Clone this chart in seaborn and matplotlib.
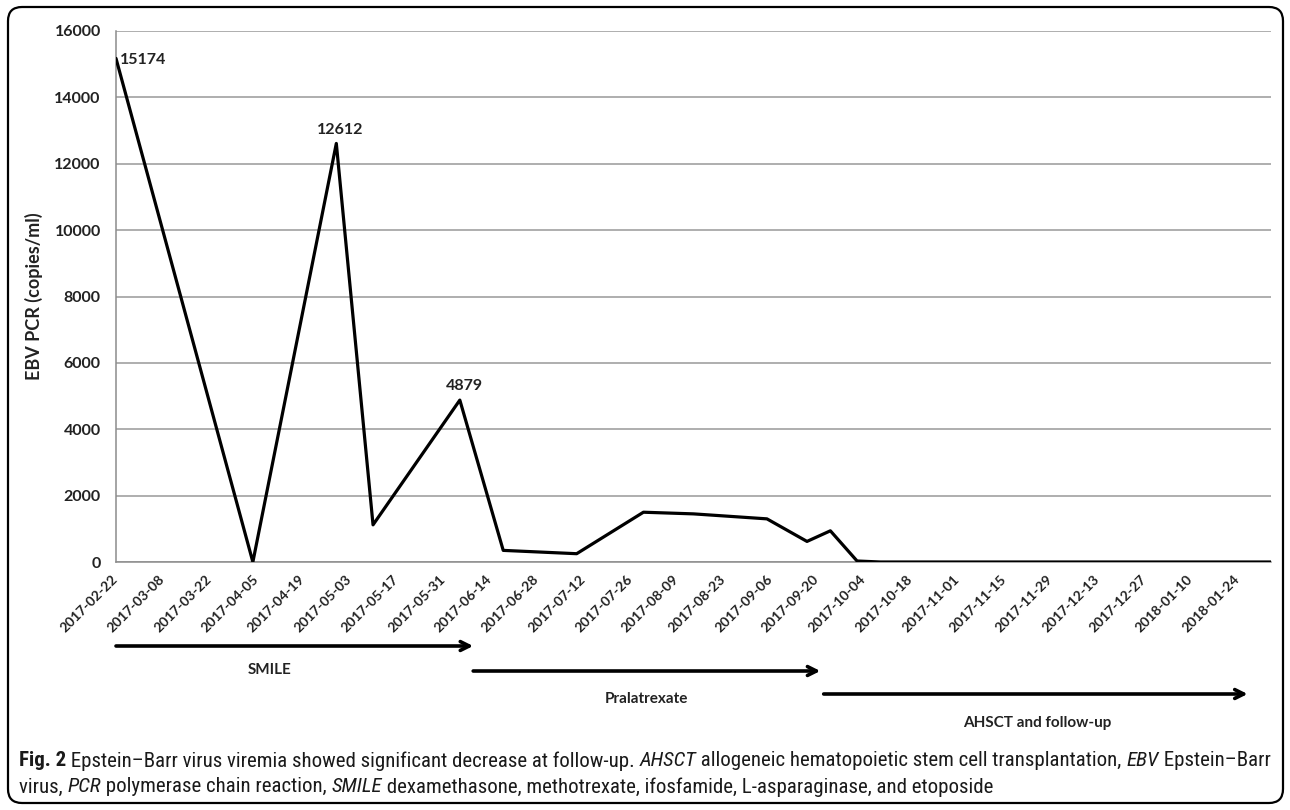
import numpy as np
import pandas as pd
import matplotlib
matplotlib.use("Agg")
import matplotlib.pyplot as plt
import matplotlib.dates as mdates
import matplotlib.transforms as mtransforms
from matplotlib.patches import FancyBboxPatch
from matplotlib import font_manager as fm
import seaborn as sns

# ---------------- data ----------------
dates = ["2017-02-22", "2017-04-04", "2017-04-29", "2017-05-10", "2017-06-05",
         "2017-06-18", "2017-07-10", "2017-07-30", "2017-08-14", "2017-09-05",
         "2017-09-17", "2017-09-24", "2017-10-02", "2017-10-09", "2017-11-06",
         "2017-12-04", "2018-01-01", "2018-02-03"]
values = [15174, 0, 12612, 1120, 4879,
          350, 250, 1500, 1450, 1300,
          620, 940, 30, 0, 0,
          0, 0, 0]

y_ticks = [0, 2000, 4000, 6000, 8000, 10000, 12000, 14000, 16000]
tick_start = "2017-02-22"
n_ticks = 25
tick_step = "14D"
x_end = "2018-02-03"

label_dates = ["2017-02-22", "2017-04-29", "2017-06-05"]
label_values = [15174, 12612, 4879]

phase_names = ["SMILE", "Pralatrexate", "AHSCT and follow-up"]
phase_starts = ["2017-02-22", "2017-06-09", "2017-09-22"]
phase_ends = ["2017-06-09", "2017-09-21", "2018-01-27"]
phase_label_dates = ["2017-04-09", "2017-07-31", "2017-11-25"]

y_label = "EBV PCR (copies/ml)"
caption_lines = [
    [("Fig. 2", "bold", "normal"),
     (" Epstein–Barr virus viremia showed significant decrease at follow-up. ", "normal", "normal"),
     ("AHSCT", "normal", "italic"),
     (" allogeneic hematopoietic stem cell transplantation, ", "normal", "normal"),
     ("EBV", "normal", "italic"),
     (" Epstein–Barr", "normal", "normal")],
    [("virus, ", "normal", "normal"),
     ("PCR", "normal", "italic"),
     (" polymerase chain reaction, ", "normal", "normal"),
     ("SMILE", "normal", "italic"),
     (" dexamethasone, methotrexate, ifosfamide, L-asparaginase, and etoposide", "normal", "normal")],
]

# ---------------- style ----------------
sns.set_theme(style="white")
plt.rcParams['font.family'] = ['Lato', 'DejaVu Sans']

# choose a narrow font for the caption if one is installed
cap_family = ['Roboto', 'DejaVu Sans']
cap_stretch = 'normal'
_fonts = [(f.name, str(f.stretch)) for f in fm.fontManager.ttflist]
_names = {n for n, _ in _fonts}
if 'Liberation Sans Narrow' in _names:
    cap_family = ['Liberation Sans Narrow', 'DejaVu Sans']
elif 'Roboto Condensed' in _names:
    cap_family = ['Roboto Condensed', 'DejaVu Sans']
elif any(n == 'DejaVu Sans' and s in ('condensed', 'semi-condensed', '75', '87') for n, s in _fonts):
    cap_family = ['DejaVu Sans']
    cap_stretch = 'condensed'

W, H = 1290, 810
fig = plt.figure(figsize=(W / 100, H / 100), dpi=100)
fig.patch.set_facecolor("white")

def fx(px):
    return px / W

def fy(py):
    return 1 - py / H

ax_left, ax_right, ax_top, ax_bottom = 116, 1271, 31, 562
ax = fig.add_axes([fx(ax_left), fy(ax_bottom), fx(ax_right - ax_left), (ax_bottom - ax_top) / H])

df = pd.DataFrame({"date": pd.to_datetime(dates), "value": values})
sns.lineplot(data=df, x="date", y="value", color="black", linewidth=2.3, ax=ax, zorder=3)

ax.set_ylim(0, 16000)
ax.set_xlim(pd.Timestamp(dates[0]), pd.Timestamp(x_end))
ax.set_yticks(y_ticks)
ax.set_yticklabels([str(v) for v in y_ticks], fontweight="bold", fontsize=11.5, color="#222222")
ax.yaxis.grid(True, color="#a8a8a8", linewidth=1.3)
ax.xaxis.grid(False)
ax.set_axisbelow(True)

ticks = pd.date_range(tick_start, periods=n_ticks, freq=tick_step)
ax.set_xticks(ticks)
ax.set_xticklabels([t.strftime("%Y-%m-%d") for t in ticks], rotation=45, ha="right",
                   va="center", rotation_mode="anchor", fontweight="bold", fontsize=10,
                   color="#222222")
ax.tick_params(axis="x", direction="out", length=5, width=1, color="#8c8c8c", pad=6)
ax.tick_params(axis="y", length=0, pad=11)

for s in ["top", "right"]:
    ax.spines[s].set_visible(False)
for s in ["left", "bottom"]:
    ax.spines[s].set_color("#8c8c8c")
    ax.spines[s].set_linewidth(1.1)

ax.set_xlabel("")
ax.set_ylabel(y_label, fontweight="bold", fontsize=13, color="#222222")
ax.yaxis.set_label_coords((43 - ax_left) / (ax_right - ax_left), 0.5)

# value labels
for i, (d, v) in enumerate(zip(label_dates, label_values)):
    if i == 0:
        ax.annotate(str(v), xy=(pd.Timestamp(d), v), xytext=(3, -1), textcoords="offset points",
                    ha="left", va="center", fontweight="bold", fontsize=11.5, color="#222222")
    else:
        ax.annotate(str(v), xy=(pd.Timestamp(d), v), xytext=(3, 10), textcoords="offset points",
                    ha="center", va="center", fontweight="bold", fontsize=11.5, color="#222222")

# treatment phase arrows
trans = mtransforms.blended_transform_factory(ax.transData, fig.transFigure)
arrow_y = [646, 671, 694]
text_y = [670, 699, 723]
for name, s, e, ld, ay, ty in zip(phase_names, phase_starts, phase_ends, phase_label_dates,
                                  arrow_y, text_y):
    xs = mdates.date2num(pd.Timestamp(s))
    xe = mdates.date2num(pd.Timestamp(e))
    xl = mdates.date2num(pd.Timestamp(ld))
    ax.annotate("", xy=(xe, fy(ay)), xytext=(xs, fy(ay)), xycoords=trans, textcoords=trans,
                arrowprops=dict(arrowstyle="->", lw=2.6, color="black", shrinkA=0, shrinkB=0,
                                mutation_scale=16),
                annotation_clip=False)
    ax.text(xl, fy(ty), name, transform=trans, ha="center", va="center",
            fontweight="bold", fontsize=11, color="#222222")

# caption
renderer = fig.canvas.get_renderer()

def width_of(s, size, weight, style):
    kw = dict(fontsize=size, fontweight=weight, fontstyle=style, family=cap_family,
              fontstretch=cap_stretch)
    t1 = fig.text(0, 0, "|" + s + "|", **kw)
    t2 = fig.text(0, 0, "||", **kw)
    w = t1.get_window_extent(renderer).width - t2.get_window_extent(renderer).width
    t1.remove()
    t2.remove()
    return w

base = 12.0
w_line1 = sum(width_of(p, base, wt, st) for p, wt, st in caption_lines[0])
cap_size = base * (1268 - 19) / w_line1
cap_y = [761, 787]
for line, cy in zip(caption_lines, cap_y):
    x = 19
    for p, wt, st in line:
        fig.text(fx(x), fy(cy), p, fontsize=cap_size, fontweight=wt, fontstyle=st,
                 family=cap_family, fontstretch=cap_stretch, ha="left", va="center",
                 color="#1a1a1a")
        x += width_of(p, cap_size, wt, st)

# frame
frame = FancyBboxPatch((8, 7), 1275, 796, boxstyle="round,pad=0,rounding_size=14",
                       transform=mtransforms.IdentityTransform(), fill=False,
                       lw=1.6, ec="black")
fig.patches.append(frame)

fig.savefig("out.png", dpi=100, facecolor="white")
